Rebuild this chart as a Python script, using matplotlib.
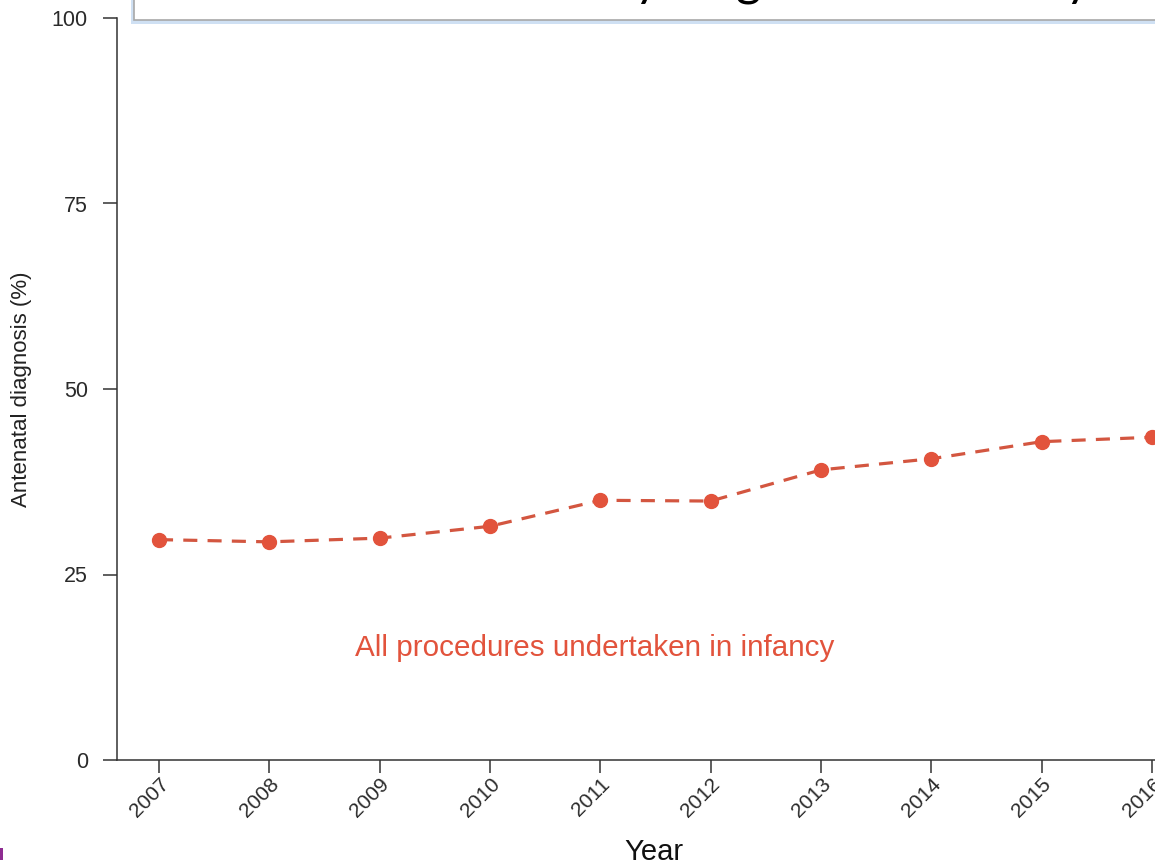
import matplotlib
matplotlib.use("Agg")
import matplotlib.pyplot as plt
from matplotlib.patches import Rectangle

years = [2007, 2008, 2009, 2010, 2011, 2012, 2013, 2014, 2015, 2016]
antenatal_pct = [29.7, 29.4, 29.9, 31.5, 35.0, 34.9, 39.1, 40.6, 42.9, 43.5]
y_ticks = [0, 25, 50, 75, 100]
series_label = "All procedures undertaken in infancy"
title_text = "Increase in early diagnosis in infancy"

W, H = 1155, 863
plt.rcParams['font.family'] = ['Liberation Sans', 'DejaVu Sans']
fig = plt.figure(figsize=(W / 100, H / 100), dpi=100)

def fx(px):
    return px / W

def fy(py):
    return (H - py) / H

ax = fig.add_axes([fx(117), fy(760), fx(1155) - fx(117), fy(18) - fy(760)])
red = '#E2533C'
ax.plot(years, antenatal_pct, color='#D35640', lw=2.3, dashes=(4.4, 3.2),
        zorder=2, clip_on=False)
ax.plot(years, antenatal_pct, ls='none', marker='o', ms=10, color=red,
        mec=red, zorder=3, clip_on=False)

x0 = 2007 - 42 / 110.3
x1 = 2016 + 3 / 110.3
ax.set_xlim(x0, x1)
ax.set_ylim(0, 100)
ax.set_xticks(years)
ax.set_xticklabels([str(y) for y in years], rotation=45, ha='right',
                   rotation_mode='anchor', fontsize=15, color='#2a2a2a')
ax.set_yticks(y_ticks)
ax.set_yticklabels([str(v) for v in y_ticks], fontsize=15.5, color='#2a2a2a')
ax.tick_params(axis='y', length=10, width=1.1, color='#333333', pad=11)
ax.tick_params(axis='x', length=9.5, width=1.1, color='#333333', pad=1)
for s in ['top', 'right']:
    ax.spines[s].set_visible(False)
for s in ['left', 'bottom']:
    ax.spines[s].set_color('#333333')
    ax.spines[s].set_linewidth(1.1)

ax.text(2007 + (595 - 159) / 110.3, 15.1, series_label, color=red,
        fontsize=21.3, ha='center', va='center')

fig.text(fx(22), fy(389), "Antenatal diagnosis (%)", rotation=90,
         fontsize=16, ha='center', va='center', color='#222222')
fig.text(fx(654), fy(852), "Year", fontsize=21, ha='center', va='center',
         color='#111111')

# title box (cropped at the top of the image)
fig.patches.append(Rectangle((fx(131), fy(24)), fx(1200) - fx(131),
                             fy(-20) - fy(24), transform=fig.transFigure,
                             facecolor='#cfe0f3', edgecolor='none', zorder=1))
fig.patches.append(Rectangle((fx(134), fy(20.5)), fx(1200) - fx(134),
                             fy(-20) - fy(20.5), transform=fig.transFigure,
                             facecolor='white', edgecolor='#a8a8a8', lw=1.2,
                             zorder=2))

# place title so that its descenders land where the reference shows them
renderer = fig.canvas.get_renderer()
tfam = ['Lato', 'DejaVu Sans']

def width(s, fs):
    t = fig.text(0, 0, s, fontsize=fs, family=tfam)
    w = t.get_window_extent(renderer).width
    t.remove()
    return w

fs0 = 30
d = width("Increase in early diagnosis in infanc", fs0) - width("Increase in ear", fs0)
fs_title = fs0 * 442 / d
w_pre = width("Increase in ear", fs_title)
w_y = width("y", fs_title)
start_px = 636 - w_pre - w_y / 2
fig.text(fx(start_px), fy(-4), title_text, fontsize=fs_title,
         family=tfam, ha='left', va='baseline', color='black', zorder=5)

fig.patches.append(Rectangle((0, fy(860)), fx(3), fy(848) - fy(860),
                             transform=fig.transFigure, facecolor='#8E2C91',
                             edgecolor='none'))

fig.savefig('out.png', dpi=100)
